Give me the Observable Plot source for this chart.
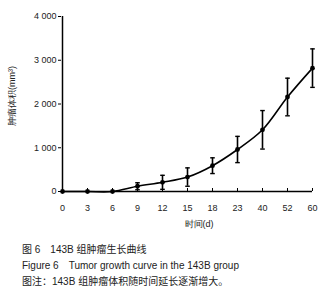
<!DOCTYPE html>
<html><head><meta charset="utf-8">
<script src="https://cdn.jsdelivr.net/npm/d3@7"></script>
<script src="https://cdn.jsdelivr.net/npm/@observablehq/plot@0.6"></script>
<style>
body{margin:0;background:#fff;font-family:"Liberation Sans",Arial,"Noto Sans CJK SC",sans-serif;}
#cap{margin:6px 0 0 22px;font-size:10px;line-height:16px;color:#222;white-space:pre;}
</style></head><body>
<div id="chart"></div>
<div id="cap"></div>
<script>
const days = ["0","3","6","9","12","15","18","23","40","52","60"];
const means = [0,0,0,120,210,330,590,960,1410,2160,2820];
const sds = [0,0,0,80,160,210,180,300,440,430,440];
const yTicks = [0,1000,2000,3000,4000];
const xLabel = "时间(d)";
const yLabel = "肿瘤体积(mm³)";
const captions = ["图 6　143B 组肿瘤生长曲线","Figure 6　Tumor growth curve in the 143B group","图注：143B 组肿瘤体积随时间延长逐渐增大。"];

const data = days.map((d,i)=>({day:d, mean:means[i], lo:means[i]-sds[i], hi:means[i]+sds[i], sd:sds[i]}));
const bars = data.filter(d=>d.sd>0);
const cap = {draw(ctx,size){const w=Math.sqrt(size)/2; ctx.moveTo(-w,0); ctx.lineTo(w,0);}};
const fmt = v => v===0 ? "0" : d3.format(",")(v).replace(","," ");

const plot = Plot.plot({
  width:332, height:236,
  marginLeft:61, marginRight:20, marginTop:16, marginBottom:45,
  style:{fontFamily:"'Liberation Sans',Arial,sans-serif", fontSize:"9px", color:"#222", background:"#fff"},
  x:{type:"point", domain:days, padding:0},
  y:{domain:[0,4000]},
  marks:[
    Plot.axisY({ticks:yTicks, tickFormat:fmt, tickSize:3, tickPadding:2, label:null, stroke:"#000"}),
    Plot.axisX({tickSize:-3, tickPadding:16, label:null, stroke:"#000"}),
    Plot.ruleX([days[0]], {stroke:"#000", strokeWidth:1.5}),
    Plot.ruleY([0], {stroke:"#000", strokeWidth:1.5}),
    Plot.ruleX(bars, {x:"day", y1:"lo", y2:"hi", stroke:"#000", strokeWidth:1.6}),
    Plot.dot(bars, {x:"day", y:"lo", symbol:cap, r:2.6, stroke:"#000", strokeWidth:1.4}),
    Plot.dot(bars, {x:"day", y:"hi", symbol:cap, r:2.6, stroke:"#000", strokeWidth:1.4}),
    Plot.line(data, {x:"day", y:"mean", stroke:"#000", strokeWidth:1.6, curve:"catmull-rom"}),
    Plot.dot(data, {x:"day", y:"mean", r:2.4, fill:"#000", stroke:"none"}),
    Plot.text([xLabel], {frameAnchor:"bottom", dy:35, dx:12, text:d=>d, fill:"#222", fontSize:9}),
    Plot.text([yLabel], {frameAnchor:"left", textAnchor:"middle", dx:-49, dy:-8, rotate:-90, text:d=>d, fill:"#222", fontSize:9})
  ]
});
document.getElementById("chart").appendChild(plot);
document.getElementById("cap").textContent = captions.join("\n");
</script>
</body></html>
